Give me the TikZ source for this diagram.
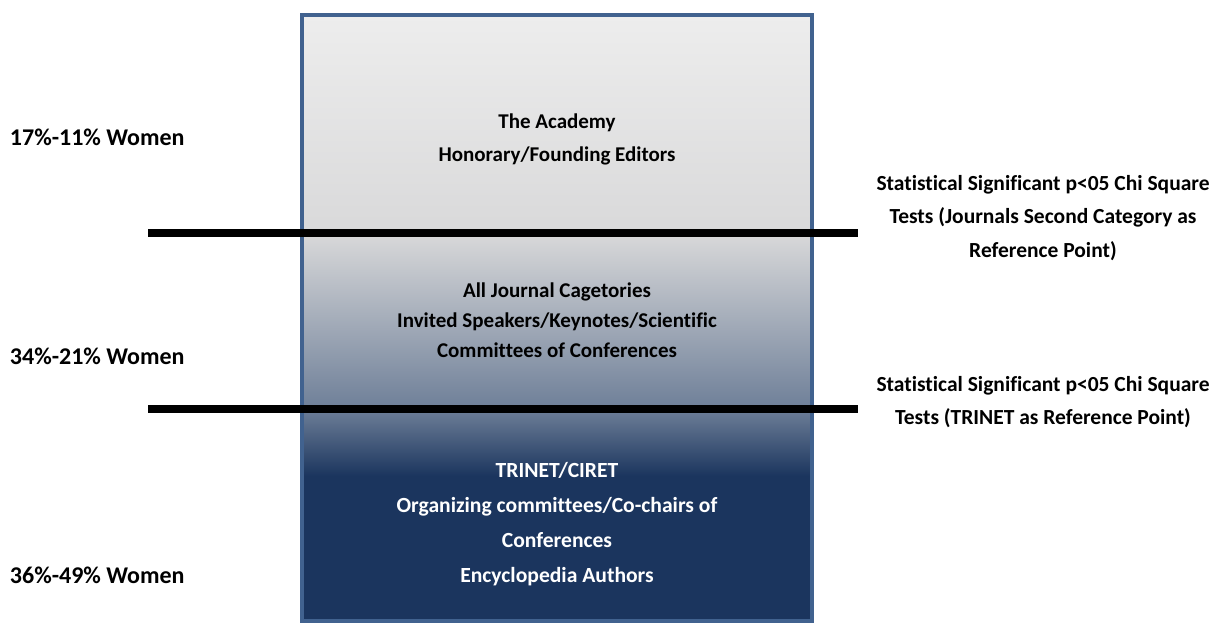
\documentclass[tikz,border=0pt]{standalone}
\usepackage{fontspec}
\setmainfont[Ligatures=NoCommon]{Carlito}
\definecolor{frameblue}{HTML}{41628F}
\definecolor{topgray}{HTML}{EDEDED}
\definecolor{midgray}{HTML}{D9D9DA}
\definecolor{midblue}{HTML}{6E7F98}
\definecolor{navy}{HTML}{1B355E}
\tikzset{
  womenlbl/.style={anchor=west,inner sep=0.75pt,font=\fontsize{24}{28}\selectfont\bfseries},
  tierlbl/.style={inner sep=0.75pt,align=center,font=\fontsize{21}{33}\selectfont\bfseries},
  siglbl/.style={inner sep=0.75pt,align=center,font=\fontsize{21.5}{33.5}\selectfont\bfseries},
  sepline/.style={line width=8pt,black}
}
\begin{document}
\begin{tikzpicture}[x=1pt,y=1pt,yscale=-1,xscale=1]
\useasboundingbox (0,0) rectangle (1220,623);

%Shape: Gradient Rectangle
\shade [top color=topgray,bottom color=midgray] (302,15) rectangle (812,233);
\shade [top color=midgray,bottom color=midblue] (302,233) rectangle (812,409);
\shade [top color=midblue,bottom color=navy] (302,409) rectangle (812,476);
\fill [navy] (302,476) rectangle (812,621);
\draw [frameblue,line width=4pt] (302,15) rectangle (812,621);

%Straight Lines
\coordinate (sepA-l) at (148,233);
\coordinate (sepA-r) at (858,233);
\coordinate (sepB-l) at (148,409);
\coordinate (sepB-r) at (858,409);
\draw [sepline] (sepA-l) -- (sepA-r);
\draw [sepline] (sepB-l) -- (sepB-r);

% Text Node
\node [womenlbl] (women1) at (9,137) {17\%-11\% Women};
\node [womenlbl] (women2) at (9,356) {34\%-21\% Women};
\node [womenlbl] (women3) at (9,575) {36\%-49\% Women};

% Text Node
\node [tierlbl] (tier1) at (557,139) {The Academy\\Honorary/Founding Editors};
\node [tierlbl,font=\fontsize{21}{30}\selectfont\bfseries] (tier2) at (557,320) {All Journal Cagetories\\Invited Speakers/Keynotes/Scientific\\Committees of Conferences};
\node [tierlbl,text=white,font=\fontsize{21.6}{35}\selectfont\bfseries] (tier3) at (557,524) {TRINET/CIRET\\Organizing committees/Co-chairs of\\Conferences\\Encyclopedia Authors};

% Text Node
\node [siglbl] (sig1) at (1043,218) {Statistical Significant p<05 Chi Square\\Tests (Journals Second Category as\\Reference Point)};
\node [siglbl] (sig2) at (1043,402) {Statistical Significant p<05 Chi Square\\Tests (TRINET as Reference Point)};

\end{tikzpicture}
\end{document}
